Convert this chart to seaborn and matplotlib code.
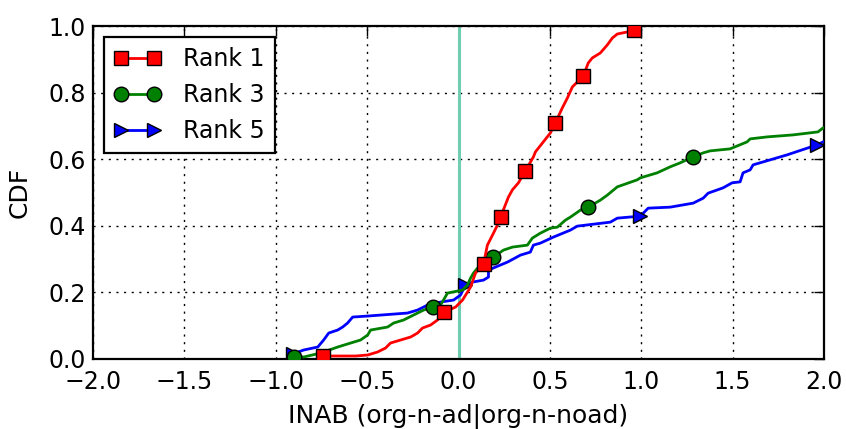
import matplotlib
matplotlib.use("Agg")
import matplotlib.pyplot as plt
from matplotlib.lines import Line2D
import seaborn as sns
import pandas as pd

# ---- data ----
rank1_x = [-0.743, -0.563, -0.497, -0.443, -0.399, -0.372, -0.317, -0.262, -0.224, -0.197,
           -0.153, -0.115, -0.077, -0.016, 0.022, 0.066, 0.093, 0.137, 0.158, 0.186,
           0.213, 0.230, 0.273, 0.295, 0.328, 0.366, 0.410, 0.421, 0.503, 0.530,
           0.568, 0.596, 0.623, 0.683, 0.710, 0.732, 0.776, 0.814, 0.842, 0.869,
           0.923, 0.962]
rank1_y = [0.009, 0.009, 0.012, 0.021, 0.033, 0.048, 0.057, 0.066, 0.078, 0.093,
           0.102, 0.117, 0.141, 0.156, 0.177, 0.216, 0.258, 0.285, 0.342, 0.372,
           0.402, 0.426, 0.486, 0.508, 0.529, 0.565, 0.607, 0.622, 0.679, 0.709,
           0.754, 0.784, 0.817, 0.850, 0.889, 0.904, 0.919, 0.943, 0.964, 0.976,
           0.982, 0.988]
rank1_marks = [0, 12, 17, 21, 25, 29, 33, 41]

rank3_x = [-0.902, -0.847, -0.754, -0.661, -0.590, -0.536, -0.497, -0.481, -0.388, -0.355,
           -0.301, -0.246, -0.191, -0.137, -0.098, -0.060, -0.005, 0.022, 0.049, 0.066,
           0.082, 0.104, 0.131, 0.191, 0.246, 0.295, 0.377, 0.404, 0.448, 0.503,
           0.541, 0.585, 0.612, 0.667, 0.710, 0.776, 0.814, 0.869, 0.978, 0.995,
           1.087, 1.158, 1.213, 1.284, 1.339, 1.377, 1.486, 1.579, 1.596, 1.689,
           1.831, 1.967, 1.995, 2.050]
rank3_y = [0.006, 0.006, 0.018, 0.036, 0.048, 0.057, 0.072, 0.087, 0.096, 0.108,
           0.117, 0.132, 0.147, 0.156, 0.162, 0.198, 0.204, 0.207, 0.222, 0.243,
           0.258, 0.273, 0.282, 0.306, 0.327, 0.336, 0.342, 0.363, 0.378, 0.393,
           0.396, 0.417, 0.426, 0.447, 0.456, 0.477, 0.492, 0.517, 0.538, 0.544,
           0.559, 0.577, 0.589, 0.607, 0.619, 0.625, 0.631, 0.652, 0.661, 0.667,
           0.673, 0.682, 0.694, 0.700]
rank3_marks = [0, 13, 23, 34, 43]

rank5_x = [-0.907, -0.847, -0.770, -0.738, -0.710, -0.661, -0.634, -0.607, -0.579, -0.497,
           -0.279, -0.224, -0.169, -0.098, -0.027, 0.011, 0.038, 0.077, 0.137, 0.164,
           0.164, 0.202, 0.268, 0.339, 0.393, 0.410, 0.448, 0.519, 0.612, 0.650,
           0.831, 0.869, 0.995, 1.038, 1.158, 1.284, 1.339, 1.366, 1.448, 1.497,
           1.541, 1.557, 1.596, 1.612, 1.705, 1.798, 1.962, 1.995, 2.050]
rank5_y = [0.015, 0.027, 0.036, 0.057, 0.078, 0.087, 0.096, 0.108, 0.126, 0.129,
           0.138, 0.147, 0.162, 0.171, 0.177, 0.192, 0.222, 0.231, 0.237, 0.246,
           0.267, 0.276, 0.291, 0.312, 0.321, 0.342, 0.348, 0.366, 0.387, 0.399,
           0.411, 0.423, 0.429, 0.453, 0.456, 0.468, 0.483, 0.498, 0.514, 0.529,
           0.532, 0.559, 0.568, 0.583, 0.598, 0.613, 0.643, 0.652, 0.660]
rank5_marks = [0, 16, 32, 46]

labels = ["Rank 1", "Rank 3", "Rank 5"]
xticks = [-2.0, -1.5, -1.0, -0.5, 0.0, 0.5, 1.0, 1.5, 2.0]
yticks = [0.0, 0.2, 0.4, 0.6, 0.8, 1.0]

# ---- style ----
sns.set_style("white")
plt.rcParams["font.family"] = ["DejaVu Sans"]
plt.rcParams["axes.unicode_minus"] = True
plt.rcParams["text.color"] = "black"
plt.rcParams["axes.labelcolor"] = "black"
plt.rcParams["xtick.color"] = "black"
plt.rcParams["ytick.color"] = "black"

fig = plt.figure(figsize=(8.46, 4.29), dpi=100)
ax = fig.add_axes([93 / 846, 1 - 359 / 429, (824 - 93) / 846, (359 - 26) / 429])

LW = 2.0
MS = 10.5
series = [
    (rank5_x, rank5_y, rank5_marks, labels[2], "blue", ">", 1),
    (rank3_x, rank3_y, rank3_marks, labels[1], "green", "o", 2),
    (rank1_x, rank1_y, rank1_marks, labels[0], "red", "s", 3),
]

ax.axvline(0.0, color="#6fcdb0", lw=2.2, zorder=1.5)

for xs, ys, marks, lab, col, mk, z in series:
    df = pd.DataFrame({"x": xs, "y": ys})
    sns.lineplot(data=df, x="x", y="y", ax=ax, sort=False, estimator=None,
                 color=col, linewidth=LW, marker=mk, markevery=marks, markersize=MS,
                 markeredgecolor="black", markeredgewidth=1.0, zorder=2 + z,
                 legend=False)

ax.set_xlim(-2.0, 2.0)
ax.set_ylim(0.0, 1.0)
ax.set_xticks(xticks)
ax.set_yticks(yticks)
ax.set_xticklabels([f"{t:.1f}".replace("-", "\u2212") for t in xticks])
ax.set_yticklabels([f"{t:.1f}" for t in yticks])
ax.tick_params(direction="in", length=7, width=1, top=True, right=True,
               labelsize=17, colors="black", labelcolor="black")
ax.tick_params(axis="x", pad=8)
ax.tick_params(axis="y", pad=5)
ax.grid(True, linestyle=(0, (1.5, 4)), color="black", lw=1.0)
for sp in ax.spines.values():
    sp.set_visible(True)
    sp.set_color("black")
    sp.set_linewidth(1.6)

ax.set_xlabel("INAB (org-n-ad|org-n-noad)", fontsize=18, labelpad=7, color="black")
ax.set_ylabel("CDF", fontsize=18, labelpad=12, color="black")

handles = [
    Line2D([], [], color="red", lw=LW, marker="s", markersize=MS,
           markeredgecolor="black", markeredgewidth=1.0),
    Line2D([], [], color="green", lw=LW, marker="o", markersize=MS,
           markeredgecolor="black", markeredgewidth=1.0),
    Line2D([], [], color="blue", lw=LW, marker=">", markersize=MS,
           markeredgecolor="black", markeredgewidth=1.0),
]
leg = ax.legend(handles, labels, loc="upper left", numpoints=2, fontsize=17,
                frameon=True, fancybox=False, shadow=False, framealpha=1,
                edgecolor="black", handlelength=2.0, borderpad=0.45,
                labelspacing=0.5, handletextpad=0.9, borderaxespad=0.45)
leg.get_frame().set_linewidth(1.6)
leg.set_zorder(10)
for t in leg.get_texts():
    t.set_color("black")

fig.savefig("out.png", dpi=100)
